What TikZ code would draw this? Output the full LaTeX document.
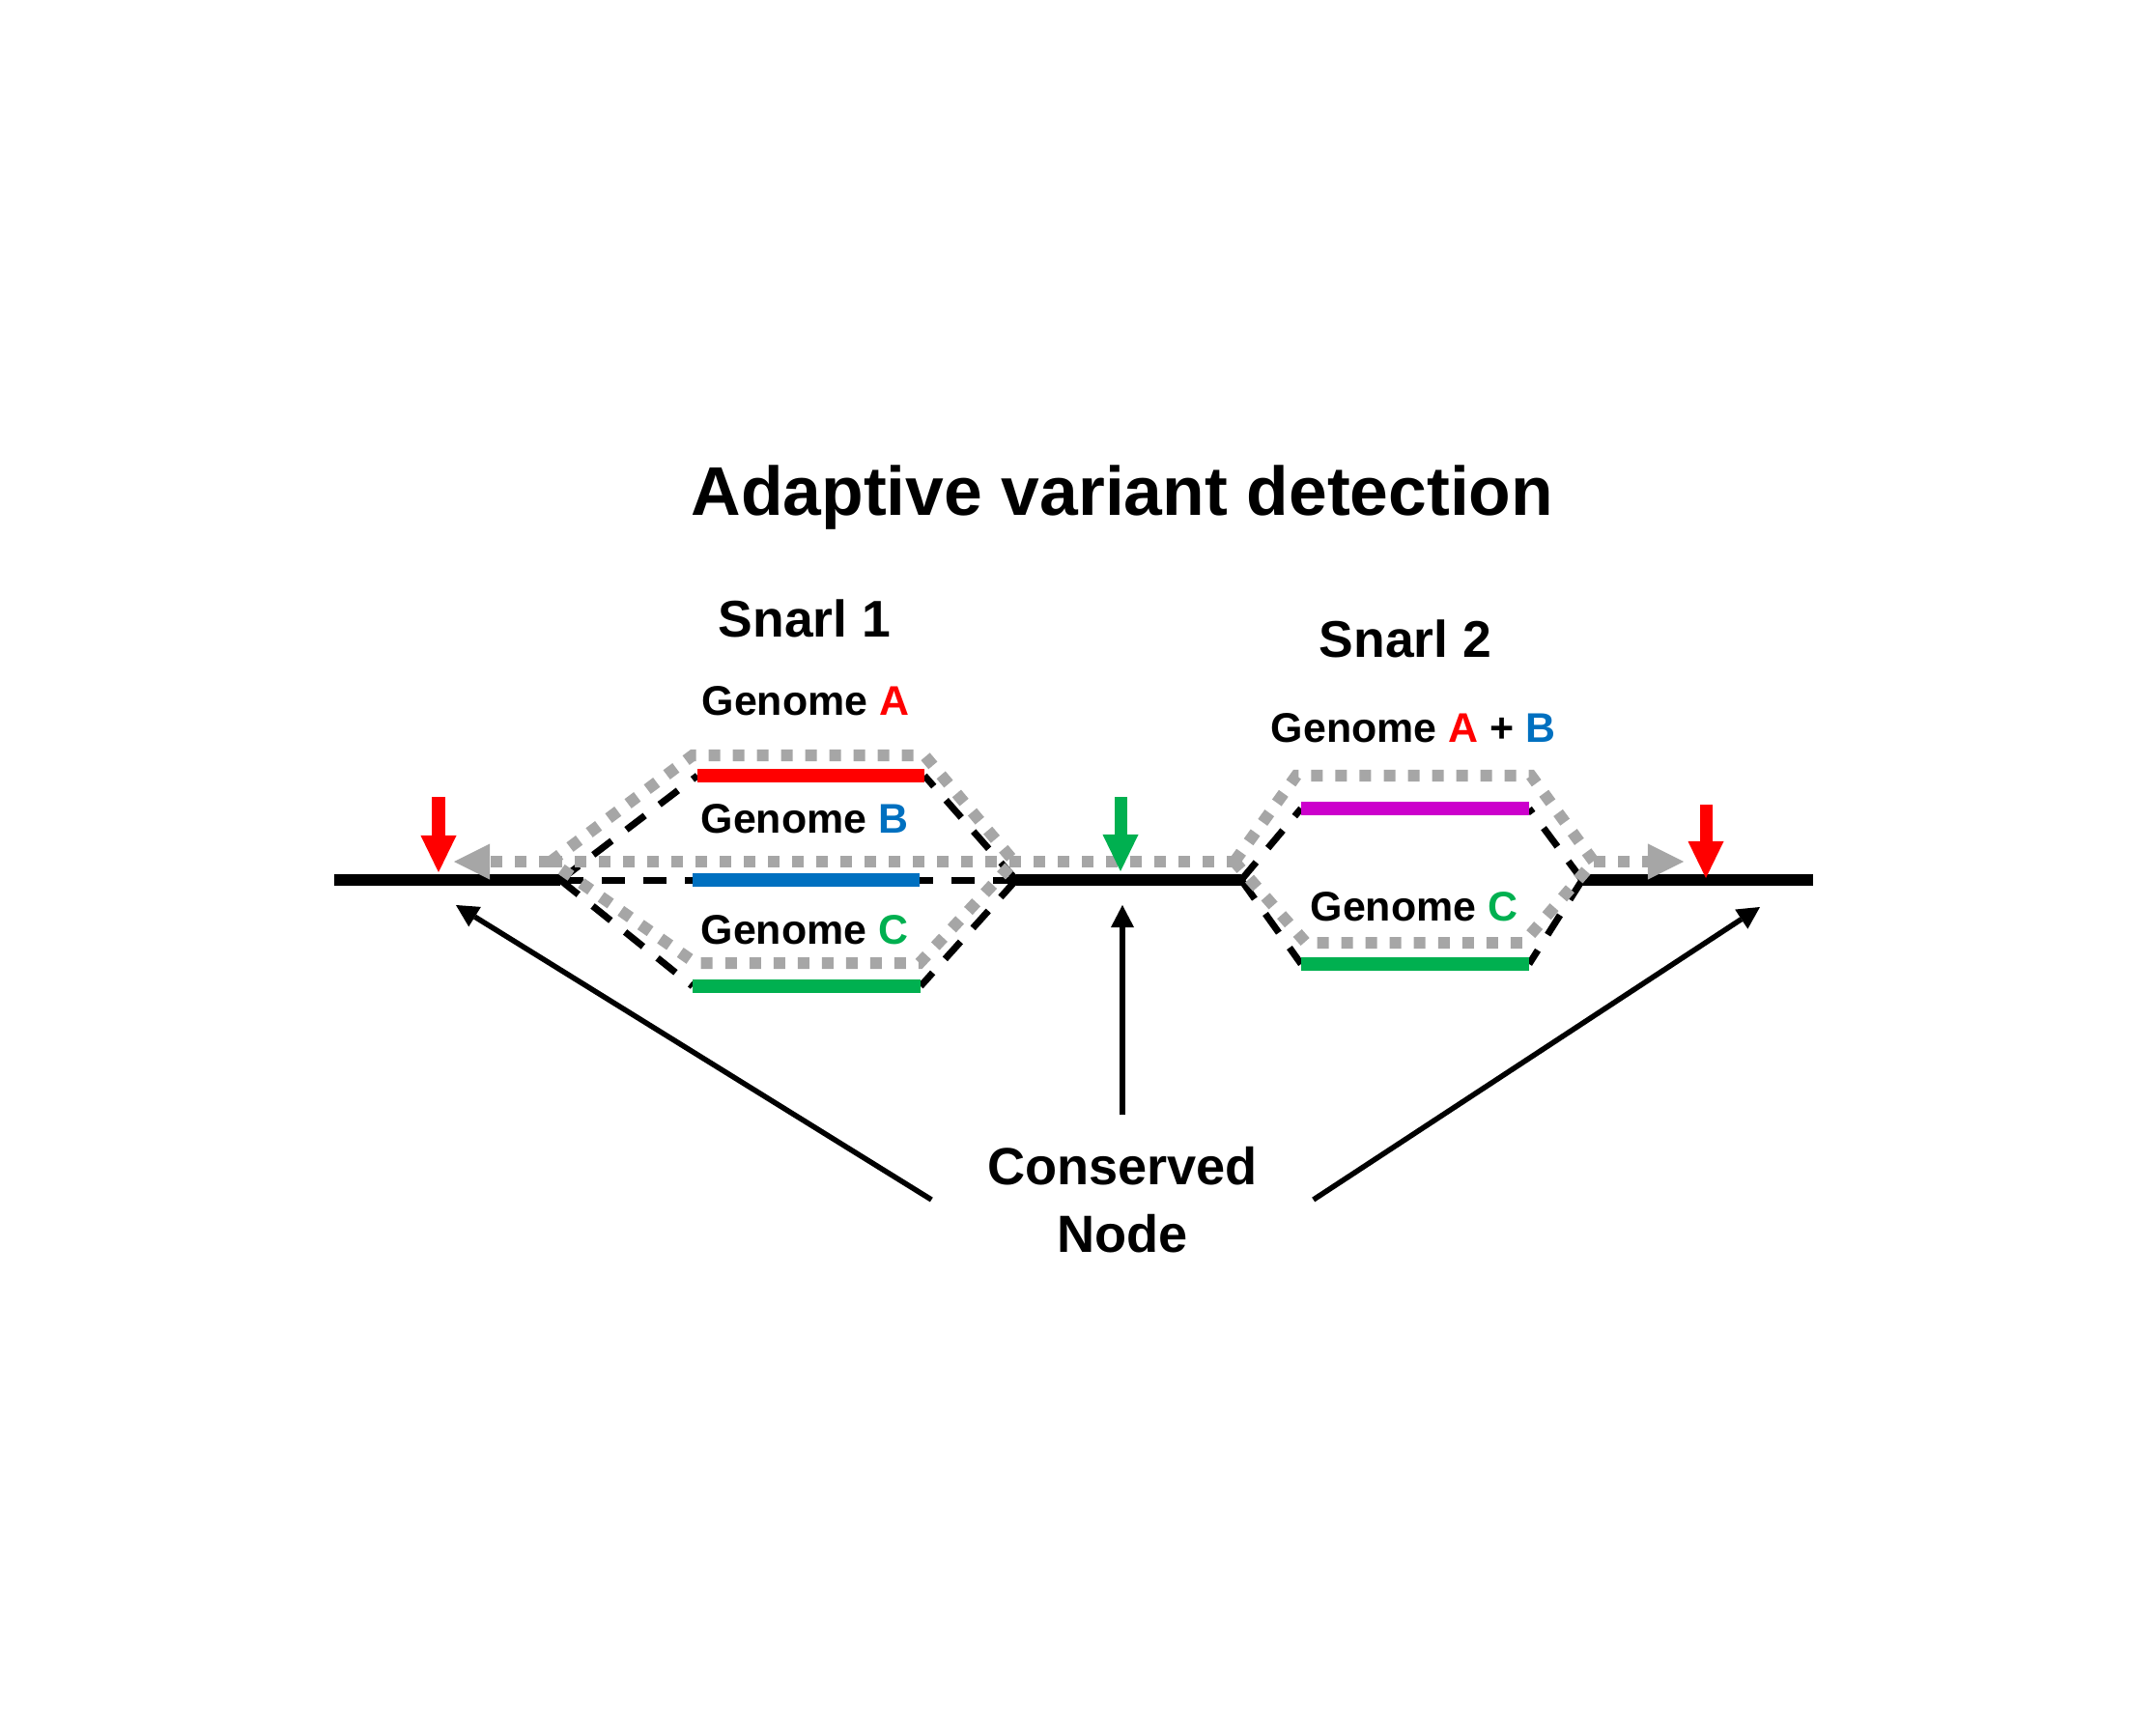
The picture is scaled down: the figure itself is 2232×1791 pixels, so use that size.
\documentclass[tikz,border=0pt]{standalone}
\usepackage{xcolor}
\usepackage{fontspec}
\setmainfont{Liberation Sans}
\usepackage{tikz}
\usetikzlibrary{arrows.meta}

\definecolor{genred}{HTML}{FF0000}
\definecolor{genblue}{HTML}{0070C0}
\definecolor{gengreen}{HTML}{00B050}
\definecolor{genpurple}{HTML}{CC00CC}
\definecolor{pathgray}{HTML}{A6A6A6}

\begin{document}
\begin{tikzpicture}[x=0.01cm, y=0.01cm]
                \tikzstyle{every node}+=[inner sep=0pt]
                \tikzstyle{mainline}=[black, line width=0.12cm]
                \tikzstyle{genline}=[line width=0.13cm]
                \tikzstyle{link}=[black, line width=0.07cm, dash pattern=on 0.24cm off 0.19cm]
                \tikzstyle{walk}=[color=pathgray, line width=0.12cm, dash pattern=on 0.12cm off 0.13cm]
                \tikzstyle{walktip}=[-{Triangle[length=0.37cm, width=0.37cm, line width=0pt]}]
                \tikzstyle{pointer}=[black, line width=0.055cm, -{Triangle[length=0.23cm, width=0.24cm, line width=0pt]}]
                \tikzstyle{marker}=[line width=0.13cm, -{Triangle[length=0.38cm, width=0.37cm, line width=0pt]}]
                \tikzstyle{headtext}=[font=\fontsize{20.3}{24}\selectfont\bfseries, anchor=base]
                \tikzstyle{snarltext}=[font=\fontsize{15.2}{18}\selectfont\bfseries, anchor=base]
                \tikzstyle{gtext}=[font=\fontsize{12.2}{14}\selectfont\bfseries, anchor=base]
                \tikzstyle{nodetext}=[font=\fontsize{15.4}{19.9}\selectfont\bfseries, align=center, inner xsep=0.57cm, inner ysep=0.32cm]
                \useasboundingbox (0,0) rectangle (2232,-1791);
                \coordinate (startL) at (346,-911);
                \coordinate (s1in) at (580,-911);
                \coordinate (s1out) at (1052,-911);
                \coordinate (s2in) at (1285,-911);
                \coordinate (s2out) at (1638,-911);
                \coordinate (endR) at (1877,-911);
                \coordinate (a1) at (722,-803);
                \coordinate (a2) at (957,-803);
                \coordinate (b1) at (717,-911);
                \coordinate (b2) at (952,-911);
                \coordinate (c1) at (717,-1021);
                \coordinate (c2) at (953,-1021);
                \coordinate (ab1) at (1347,-837);
                \coordinate (ab2) at (1583,-837);
                \coordinate (cc1) at (1347,-998);
                \coordinate (cc2) at (1583,-998);
                \draw [link] (s1in) -- (a1);
                \draw [link] (s1in) -- (b1);
                \draw [link] (s1in) -- (c1);
                \draw [link] (s1out) -- (a2);
                \draw [link] (s1out) -- (b2);
                \draw [link] (s1out) -- (c2);
                \draw [link] (s2in) -- (ab1);
                \draw [link] (s2in) -- (cc1);
                \draw [link] (s2out) -- (ab2);
                \draw [link] (s2out) -- (cc2);
                \draw [mainline] (startL) -- (s1in);
                \draw [mainline] (s1out) -- (s2in);
                \draw [mainline] (s2out) -- (endR);
                \draw [genline, genred] (a1) -- (a2);
                \draw [genline, genblue] (b1) -- (b2);
                \draw [genline, gengreen] (c1) -- (c2);
                \draw [genline, genpurple] (ab1) -- (ab2);
                \draw [genline, gengreen] (cc1) -- (cc2);
                \coordinate (w1l) at (570,-892);
                \coordinate (w1tl) at (717,-782);
                \coordinate (w1tr) at (957,-782);
                \coordinate (w1r) at (1050,-892);
                \coordinate (w1br) at (952,-997);
                \coordinate (w1bl) at (720,-997);
                \coordinate (w2l) at (1278,-892);
                \coordinate (w2tl) at (1342,-803);
                \coordinate (w2tr) at (1585,-803);
                \coordinate (w2r) at (1650,-892);
                \coordinate (w2br) at (1577,-976);
                \coordinate (w2bl) at (1352,-976);
                \coordinate (gtipL) at (470,-892);
                \coordinate (gtipR) at (1743,-892);
                \draw [walk] (w1l) -- (w1tl) -- (w1tr) -- (w1r) -- (w1br) -- (w1bl) -- cycle;
                \draw [walk] (w1l) -- (w2l);
                \draw [walk] (w2l) -- (w2tl) -- (w2tr) -- (w2r) -- (w2br) -- (w2bl) -- cycle;
                \draw [walk, walktip] (w1l) -- (gtipL);
                \draw [walk, walktip] (w2r) -- (gtipR);
                \coordinate (dropL) at (454,-825);
                \coordinate (hitL) at (454,-903);
                \coordinate (dropM) at (1160,-825);
                \coordinate (hitM) at (1160,-902);
                \coordinate (dropR) at (1766,-833);
                \coordinate (hitR) at (1766,-909);
                \draw [marker, genred] (dropL) -- (hitL);
                \draw [marker, gengreen] (dropM) -- (hitM);
                \draw [marker, genred] (dropR) -- (hitR);
                \node [headtext] (title) at (1162,-533) {Adaptive variant detection};
                \node [snarltext] (snarl1) at (833,-659) {Snarl 1};
                \node [snarltext] (snarl2) at (1455,-680) {Snarl 2};
                \node [gtext] (labA) at (834,-740) {Genome \textcolor{genred}{A}};
                \node [gtext] (labB) at (833,-862) {Genome \textcolor{genblue}{B}};
                \node [gtext] (labC) at (833,-977) {Genome \textcolor{gengreen}{C}};
                \node [gtext] (labAB) at (1463,-768) {Genome \textcolor{genred}{A} + \textcolor{genblue}{B}};
                \node [gtext] (labC2) at (1464,-953) {Genome \textcolor{gengreen}{C}};
                \node [nodetext] (cons) at (1162,-1242) {Conserved\\Node};
                \coordinate (tipL) at (472,-937);
                \coordinate (tipM) at (1162,-937);
                \coordinate (tipR) at (1822,-939);
                \draw [pointer] (cons.west) -- (tipL);
                \draw [pointer] (cons.north) -- (tipM);
                \draw [pointer] (cons.east) -- (tipR);
            \end{tikzpicture}
\end{document}
